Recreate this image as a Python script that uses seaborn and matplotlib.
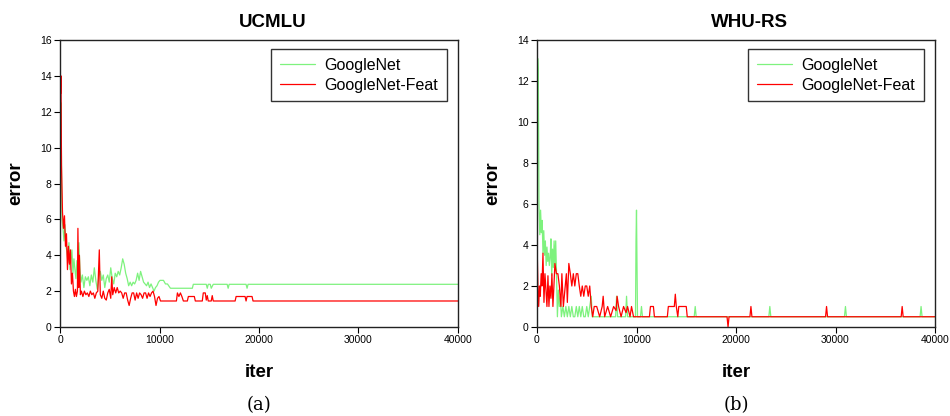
import matplotlib
matplotlib.use("Agg")
import matplotlib.pyplot as plt
import seaborn as sns
import pandas as pd

# ---------------- data ----------------
titles = ["UCMLU", "WHU-RS"]
panel_labels = ["(a)", "(b)"]
series_names = ["GoogleNet", "GoogleNet-Feat"]
x_ticks = [0, 10000, 20000, 30000, 40000]
y_max = [16, 14]

# UCMLU - GoogleNet
uc_g_iter = [0, 50, 100, 200, 300, 400, 500, 600, 700, 800, 900, 1000, 1100, 1200, 1300, 1400,
             1500, 1600, 1700, 1800, 1900, 2000, 2100, 2250, 2400, 2550, 2700, 2850, 3000, 3150,
             3300, 3450, 3600, 3750, 3900, 4050, 4200, 4350, 4500, 4650, 4800, 4950, 5100, 5250,
             5400, 5550, 5700, 5850, 6000, 6150, 6300, 6450, 6600, 6750, 6900, 7050, 7200, 7350,
             7500, 7650, 7800, 7950, 8100, 8250, 8400, 8550, 8700, 8850, 9000, 9150, 9300, 9450,
             9600, 9750, 9900, 10050, 10400, 10600, 10800, 11100, 13300, 13400, 14700, 14800,
             14900, 15100, 15200, 15400, 15500, 16800, 16900, 17000, 18700, 18800, 18900, 40000]
uc_g_err = [12.0, 9.0, 12.5, 6.0, 5.5, 4.8, 5.7, 4.5, 4.2, 3.6, 4.7, 3.2, 3.8, 4.3, 3.0, 3.8,
            3.2, 2.7, 3.7, 3.1, 4.7, 3.3, 2.5, 2.9, 2.2, 2.8, 2.6, 2.8, 2.3, 2.9,
            2.5, 3.3, 2.6, 2.1, 2.8, 3.1, 2.6, 2.9, 2.2, 2.7, 2.9, 2.5, 3.3, 2.7,
            2.4, 3.0, 2.8, 3.1, 2.9, 3.3, 3.8, 3.5, 3.0, 2.7, 2.3, 2.5, 2.3, 2.5,
            2.4, 2.6, 3.0, 2.6, 3.1, 2.8, 2.5, 2.4, 2.3, 2.5, 2.2, 2.4, 2.2, 2.0,
            2.2, 2.3, 2.5, 2.6, 2.6, 2.4, 2.4, 2.16, 2.16, 2.38, 2.38, 2.16,
            2.38, 2.38, 2.16, 2.38, 2.38, 2.38, 2.16, 2.38, 2.38, 2.16, 2.38, 2.38]

# UCMLU - GoogleNet-Feat
uc_r_iter = [0, 50, 100, 150, 250, 350, 450, 550, 650, 750, 850, 950, 1050, 1150, 1250, 1350,
             1450, 1550, 1650, 1750, 1800, 1880, 1950, 2050, 2150, 2300, 2450, 2600, 2750, 2900,
             3050, 3200, 3350, 3500, 3650, 3800, 3950, 4050, 4200, 4350, 4500, 4650, 4800, 4950,
             5100, 5200, 5300, 5450, 5600, 5750, 5900, 6050, 6200, 6350, 6500, 6650, 6800, 6950,
             7100, 7250, 7400, 7550, 7700, 7850, 8000, 8150, 8300, 8450, 8600, 8750, 8900, 9050,
             9200, 9350, 9500, 9650, 9800, 9950, 10100, 11700, 11800, 11950, 12100, 12250, 12400,
             12800, 12900, 13500, 13600, 14300, 14400, 14600, 14700, 14800, 14900, 15200, 15300,
             15400, 17600, 17700, 18600, 18700, 18800, 19300, 19400, 40000]
uc_r_err = [14.5, 13.0, 14.0, 9.0, 6.4, 5.5, 6.2, 4.5, 5.2, 3.2, 4.5, 3.5, 4.3, 2.4, 3.0, 2.0,
            1.7, 2.1, 1.7, 2.0, 5.5, 2.2, 4.0, 1.8, 2.0, 1.7, 2.0, 1.8, 1.9, 1.7,
            2.0, 1.8, 1.9, 1.6, 1.9, 2.0, 4.3, 1.8, 1.6, 2.0, 1.6, 1.5, 1.9, 2.1,
            1.6, 2.8, 1.8, 2.2, 1.9, 2.2, 1.9, 2.0, 1.9, 1.6, 1.9, 1.9, 1.5, 1.2,
            1.6, 1.9, 1.9, 1.5, 1.9, 1.6, 1.9, 1.8, 1.6, 1.9, 1.9, 1.6, 1.9, 1.7,
            1.9, 2.0, 1.7, 1.2, 1.6, 1.7, 1.45, 1.45, 1.9, 1.7, 1.9, 1.7, 1.45,
            1.45, 1.7, 1.7, 1.45, 1.45, 1.9, 1.9, 1.5, 1.75, 1.45, 1.45, 1.75,
            1.45, 1.45, 1.7, 1.7, 1.45, 1.7, 1.7, 1.45, 1.45]

# WHU-RS - GoogleNet
wh_g_iter = [0, 70, 130, 200, 280, 360, 440, 520, 600, 680, 760, 840, 920, 1000, 1080, 1160,
             1240, 1320, 1400, 1480, 1560, 1640, 1720, 1800, 1880, 1960, 2050, 2150, 2250, 2350,
             2450, 2600, 2750, 2900, 3050, 3200, 3350, 3500, 3650, 3800, 3950, 4100, 4250, 4400,
             4550, 4700, 4850, 5000, 5150, 5300, 5450, 5550, 5700, 7900, 8000, 8100, 8900, 9000,
             9100, 9900, 9950, 10000, 10100, 10400, 10500, 10600, 15800, 15900, 16000, 23300,
             23400, 23500, 30900, 31000, 31100, 38500, 38600, 38700, 40000]
wh_g_err = [9.0, 13.1, 12.4, 6.0, 4.5, 5.7, 4.6, 5.2, 3.6, 4.7, 3.5, 4.2, 3.0, 3.9, 3.2, 3.6,
            3.0, 3.4, 4.3, 2.5, 3.8, 2.9, 4.2, 3.0, 4.2, 2.6, 0.5, 1.8, 1.0, 1.5,
            0.5, 1.0, 0.5, 1.0, 0.5, 1.0, 0.5, 1.0, 0.5, 0.5, 1.0, 0.5, 1.0, 0.5,
            1.0, 0.5, 0.5, 1.0, 0.5, 1.0, 1.5, 0.5, 0.5, 0.5, 1.5, 0.5, 0.5, 1.5,
            0.5, 0.5, 4.2, 5.7, 0.5, 0.5, 1.0, 0.5, 0.5, 1.0, 0.5, 0.5,
            1.0, 0.5, 0.5, 1.0, 0.5, 0.5, 1.0, 0.5, 0.5]

# WHU-RS - GoogleNet-Feat
wh_r_iter = [0, 100, 170, 250, 330, 420, 500, 600, 700, 800, 900, 1000, 1100, 1200, 1300, 1400,
             1500, 1600, 1700, 1800, 1950, 2100, 2250, 2400, 2500, 2650, 2800, 2950, 3050, 3200,
             3350, 3500, 3650, 3800, 3950, 4100, 4250, 4400, 4550, 4700, 4850, 5000, 5150, 5300,
             5450, 5600, 5750, 6000, 6300, 6550, 6650, 6800, 7100, 7400, 7700, 7950, 8050, 8200,
             8450, 8700, 8950, 9100, 9350, 9500, 9700, 11300, 11400, 11700, 11800, 13100, 13200,
             13800, 13900, 14000, 14150, 14250, 14400, 15000, 15100, 19100, 19200, 19300, 21400,
             21500, 21600, 29000, 29100, 29200, 36600, 36700, 36800, 40000]
wh_r_err = [4.2, 1.8, 1.0, 2.0, 1.5, 2.6, 2.0, 3.6, 1.2, 2.6, 1.8, 1.0, 2.5, 1.0, 2.0, 1.4,
            2.6, 1.0, 2.0, 3.1, 2.6, 2.6, 2.0, 1.0, 2.6, 1.0, 1.8, 2.6, 1.2, 3.1,
            2.6, 2.0, 2.6, 2.0, 2.6, 2.6, 2.0, 1.5, 2.0, 1.5, 2.0, 2.0, 1.5, 2.0,
            1.0, 0.5, 1.0, 1.0, 0.5, 1.0, 1.5, 0.5, 1.0, 0.5, 1.0, 0.8, 1.5, 1.0,
            0.5, 1.0, 0.7, 1.0, 0.5, 1.0, 0.5, 0.5, 1.0, 1.0, 0.5, 0.5, 1.0,
            1.0, 1.6, 1.0, 0.5, 1.0, 1.0, 1.0, 0.5, 0.5, 0.0, 0.5, 0.5,
            1.0, 0.5, 0.5, 1.0, 0.5, 0.5, 1.0, 0.5, 0.5]

green = "#7ef27e"
red = "#ff0000"

# ---------------- plot ----------------
sns.set_theme(style="white")
plt.rcParams["font.family"] = ["Liberation Sans", "DejaVu Sans"]
plt.rcParams["text.color"] = "black"
plt.rcParams["axes.labelcolor"] = "black"

fig = plt.figure(figsize=(9.5, 4.16), dpi=100)
W, H = 950, 416
axes = [fig.add_axes([60 / W, (H - 327) / H, 398 / W, 287 / H]),
        fig.add_axes([537 / W, (H - 327) / H, 398 / W, 287 / H])]

panels = [
    (uc_g_iter, uc_g_err, uc_r_iter, uc_r_err),
    (wh_g_iter, wh_g_err, wh_r_iter, wh_r_err),
]

for i, ax in enumerate(axes):
    gi, ge, ri, re = panels[i]
    dfg = pd.DataFrame({"iter": gi, "error": ge})
    dfr = pd.DataFrame({"iter": ri, "error": re})
    sns.lineplot(data=dfg, x="iter", y="error", ax=ax, color=green, lw=0.9,
                 label=series_names[0], estimator=None, sort=False)
    sns.lineplot(data=dfr, x="iter", y="error", ax=ax, color=red, lw=0.9,
                 label=series_names[1], estimator=None, sort=False)
    ax.set_xlim(0, 40000)
    ax.set_ylim(0, y_max[i])
    ax.set_xticks(x_ticks)
    ax.set_xticklabels([str(t) for t in x_ticks])
    ax.set_yticks(list(range(0, y_max[i] + 1, 2)))
    ax.tick_params(axis="both", direction="out", length=4, width=0.8, pad=2,
                   labelsize=7.5, colors="black", bottom=True, left=True)
    for sp in ax.spines.values():
        sp.set_color("#222222")
        sp.set_linewidth(1.0)
    ax.set_title(titles[i], fontsize=13.5, fontweight="bold", x=0.535, pad=9.6,
                 color="black")
    ax.set_xlabel("iter", fontsize=13.5, fontweight="bold", color="black")
    ax.set_ylabel("error", fontsize=13.5, fontweight="bold", color="black")
    ax.xaxis.set_label_coords(0.5, -0.13)
    ax.yaxis.set_label_coords(-0.09, 0.5)
    leg = ax.legend(loc="upper right", bbox_to_anchor=(1 - 11 / 398, 1 - 9 / 287),
                    borderaxespad=0, fontsize=11.5, frameon=True, fancybox=False,
                    framealpha=1, edgecolor="#333333", handlelength=2.2,
                    labelspacing=0.3, borderpad=0.55, handletextpad=0.6)
    leg.get_frame().set_linewidth(1.0)
    for t in leg.get_texts():
        t.set_color("black")
    ax.grid(False)

fig.text(259 / W, 1 - 405 / H, panel_labels[0], ha="center", va="center",
         fontsize=13, family="DejaVu Serif", color="black")
fig.text(736 / W, 1 - 405 / H, panel_labels[1], ha="center", va="center",
         fontsize=13, family="DejaVu Serif", color="black")

fig.savefig("out.png", dpi=100)
